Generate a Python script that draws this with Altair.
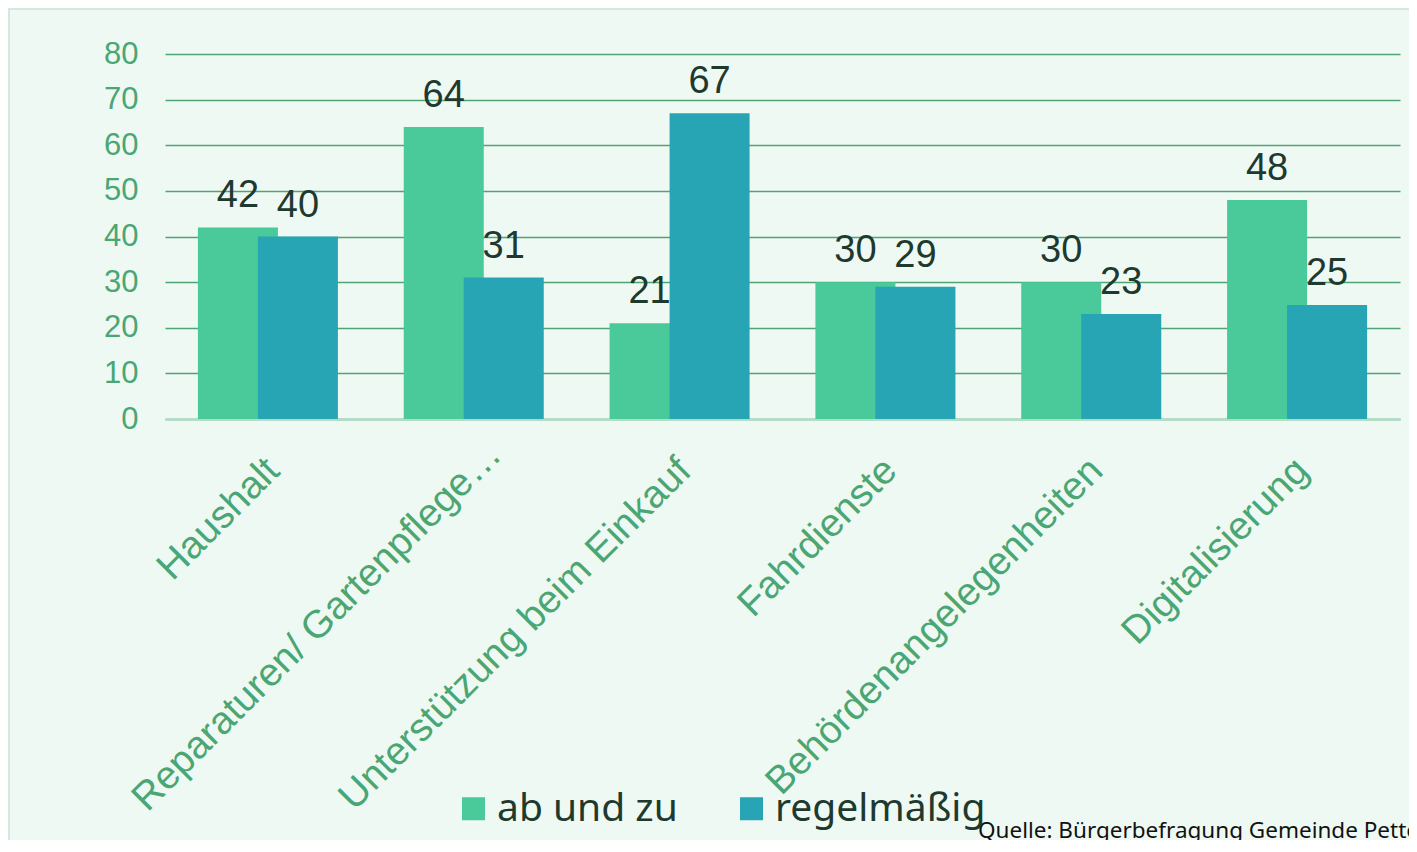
import altair as alt
import pandas as pd

categories = ["Haushalt", "Reparaturen/ Gartenpflege…", "Unterstützung beim Einkauf",
              "Fahrdienste", "Behördenangelegenheiten", "Digitalisierung"]
ab_und_zu = [42, 64, 21, 30, 30, 48]
regelmaessig = [40, 31, 67, 29, 23, 25]
series_names = ["ab und zu", "regelmäßig"]
series_colors = ["#4AC99A", "#27A5B4"]
y_ticks = [0, 10, 20, 30, 40, 50, 60, 70, 80]
source_text = ["Quelle: Bürgerbefragung Gemeinde Pettendorf"]

rows = []
for c, a, r in zip(categories, ab_und_zu, regelmaessig):
    rows.append({"Kategorie": c, "Serie": series_names[0], "Wert": a})
    rows.append({"Kategorie": c, "Serie": series_names[1], "Wert": r})
df = pd.DataFrame(rows)

LABEL_GREEN = "#4AA673"
DARK = "#1E3A2F"
truncated_test = "datum.value === '" + categories[1] + "'"

x_enc = alt.X(
    "Kategorie:N", sort=categories,
    scale=alt.Scale(paddingInner=0, paddingOuter=0),
    axis=alt.Axis(title=None, labelAngle=-45, labelAlign="right", labelBaseline="middle",
                  labelFontSize=39, labelColor=LABEL_GREEN, labelFont="Liberation Sans",
                  labelPadding={"condition": {"test": truncated_test, "value": 29}, "value": 45},
                  labelOffset={"condition": {"test": truncated_test, "value": 21}, "value": 5},
                  ticks=False, labelLimit=0,
                  domainColor="#B5DCC9", domainWidth=3),
)
y_enc = alt.Y(
    "Wert:Q", scale=alt.Scale(domain=[0, 80]),
    axis=alt.Axis(values=y_ticks, title=None, grid=True, gridColor="#4EA475", gridWidth=1.6,
                  domain=False, ticks=False, labelFontSize=31, labelColor=LABEL_GREEN,
                  labelFont="Liberation Sans", labelPadding=27),
)
color_enc = alt.Color(
    "Serie:N",
    scale=alt.Scale(domain=series_names, range=series_colors),
    legend=alt.Legend(title=None, orient="none", legendX=289, legendY=735, direction="horizontal",
                      symbolType="square", symbolSize=529, symbolStrokeWidth=0, labelFontSize=39,
                      labelFont="Noto Sans", labelColor=DARK, labelOffset=4, columnPadding=54,
                      labelLimit=0),
)

base = alt.Chart(df)
green = base.transform_filter(alt.datum.Serie == series_names[0])
teal = base.transform_filter(alt.datum.Serie == series_names[1])

bars_g = green.mark_bar(width=80, xOffset=-30).encode(x=x_enc, y=y_enc, color=color_enc)
bars_t = teal.mark_bar(width=80, xOffset=30).encode(x=x_enc, y=y_enc, color=color_enc)

txt_style = dict(fontSize=38, font="Liberation Sans", color=DARK, baseline="alphabetic", dy=-20)
text_g = green.mark_text(dx=-30, **txt_style).encode(x=x_enc, y=y_enc, text="Wert:Q")
text_t = teal.mark_text(dx=30, **txt_style).encode(x=x_enc, y=y_enc, text="Wert:Q")

src = alt.Chart(pd.DataFrame({"t": source_text})).mark_text(
    align="left", baseline="alphabetic", fontSize=22.5, font="Noto Sans", color="#111111"
).encode(x=alt.value(813), y=alt.value(784), text="t:N")

border = alt.Chart(pd.DataFrame({"t": source_text})).mark_rect(
    filled=False, stroke="#D3E9DF", strokeWidth=2
).encode(x=alt.value(-156), x2=alt.value(1400), y=alt.value(-45), y2=alt.value(900))

chart = alt.layer(border, bars_g, bars_t, text_g, text_t, src).properties(
    width=1235, height=365,
    padding={"left": 157, "top": 46, "right": 9, "bottom": 421},
    autosize=alt.AutoSizeParams(type="none"),
    background="#EFF9F3",
).configure_view(stroke=None)

chart.save("out.html", embed_options={"renderer": "svg", "actions": False})
